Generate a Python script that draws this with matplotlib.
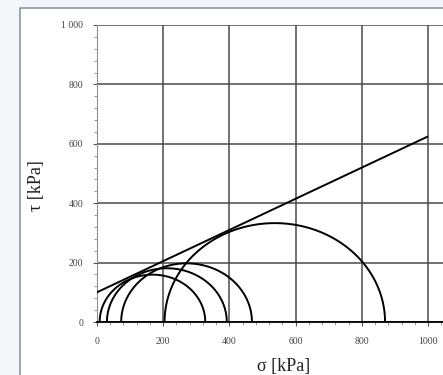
import numpy as np
import matplotlib
matplotlib.use("Agg")
import matplotlib.pyplot as plt
from matplotlib.patches import Rectangle
from matplotlib.ticker import MultipleLocator, FixedLocator

# Mohr circles: minor and major principal stresses [kPa]
sigma3 = [8, 30, 73, 204]
sigma1 = [327, 392, 468, 870]

# Mohr-Coulomb envelope: cohesion [kPa] and friction coefficient tan(phi)
cohesion = 100
tan_phi = 0.525
envelope_sigma = [0, 997]

x_ticks = [0, 200, 400, 600, 800, 1000]
x_tick_labels = ["0", "200", "400", "600", "800", "1000"]
y_ticks = [0, 200, 400, 600, 800, 1000]
y_tick_labels = ["0", "200", "400", "600", "800", "1 000"]

fig = plt.figure(figsize=(4.43, 3.75), dpi=100)
fig.patch.set_facecolor("#f3f7fa")

# panel frame on a background layer
bg = fig.add_axes([0, 0, 1, 1], zorder=-10)
bg.set_axis_off()
bg.set_xlim(0, 443)
bg.set_ylim(375, 0)
bg.add_patch(Rectangle((20, 8), 500, 400, facecolor="white",
                       edgecolor="#8c9aa3", linewidth=1.2))

ax = fig.add_axes([97 / 443, 53 / 375, 1 - 97 / 443, (350 - 53) / 375])
ax.set_facecolor("none")

serif = ["Liberation Serif", "DejaVu Serif"]

for s3, s1 in zip(sigma3, sigma1):
    c = (s1 + s3) / 2
    r = (s1 - s3) / 2
    t = np.linspace(0, np.pi, 300)
    ax.plot(c + r * np.cos(t), r * np.sin(t), color="black", lw=1.4,
            zorder=3, solid_capstyle="butt")

xs = np.array(envelope_sigma, dtype=float)
ax.plot(xs, cohesion + tan_phi * xs, color="black", lw=1.4, zorder=3)

ax.set_xlim(0, 1045)
ax.set_ylim(0, 1000)

ax.xaxis.set_major_locator(FixedLocator(x_ticks))
ax.yaxis.set_major_locator(FixedLocator(y_ticks))
ax.set_xticklabels(x_tick_labels, fontsize=7, family=serif, color="#444")
ax.set_yticklabels(y_tick_labels, fontsize=7, family=serif, color="#444")
ax.xaxis.set_minor_locator(MultipleLocator(40))
ax.yaxis.set_minor_locator(MultipleLocator(40))
ax.tick_params(which="major", length=3, width=0.8, color="#555", pad=8)
ax.tick_params(axis="y", which="major", pad=7)
ax.tick_params(which="minor", length=2, width=0.6, color="#888")

ax.grid(True, which="major", color="#4a4a4a", lw=1.1, zorder=1)

for side in ("top", "right"):
    ax.spines[side].set_visible(False)
ax.spines["bottom"].set_color("black")
ax.spines["bottom"].set_linewidth(1.3)
ax.spines["left"].set_color("#9a9a9a")
ax.spines["left"].set_linestyle((0, (1, 2)))
ax.spines["left"].set_linewidth(0.8)

fig.text(37 / 443, 1 - 186 / 375, "τ [kPa]", rotation=90, ha="center",
         va="center", fontsize=13, family=serif, color="#222")
fig.text(284 / 443, 1 - 367 / 375, "σ [kPa]", ha="center", va="center",
         fontsize=13, family=serif, color="#222")

fig.savefig("out.png", dpi=100, facecolor=fig.get_facecolor())
